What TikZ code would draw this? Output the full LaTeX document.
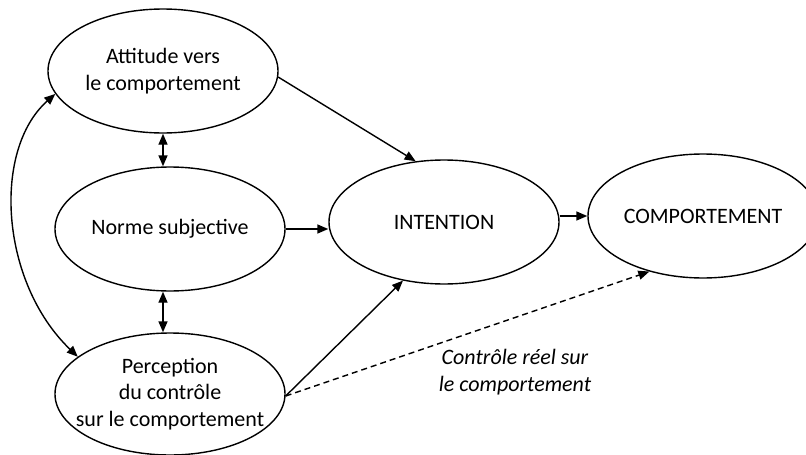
\documentclass[tikz,border=0pt]{standalone}
\usepackage{fontspec}
\setmainfont{Carlito}
\usetikzlibrary{shapes.geometric,arrows.meta}
\tikzset{
  oval/.style={ellipse, draw, line width=1.4pt, minimum width=230pt, minimum height=124pt, inner sep=0pt},
  txt/.style={align=center, font=\fontsize{22}{26.5}\selectfont},
  link/.style={line width=1.4pt, -{Triangle[length=11pt,width=9pt]}},
  both/.style={line width=1.4pt, {Triangle[length=11pt,width=9pt]}-{Triangle[length=11pt,width=9pt]}},
  dashlink/.style={link, dash pattern=on 6pt off 4pt}
}
\begin{document}
\begin{tikzpicture}[x=1pt, y=-1pt]
\clip (0,0) rectangle (806,455);
\useasboundingbox (0,0) rectangle (806,455);
% the five constructs
\node[oval, label={[txt]center:Attitude vers\\le comportement}] (att) at (163,71) {};
\node[oval, label={[txt]center:Norme subjective}] (norme) at (170,229) {};
\node[oval, minimum height=122pt, label={[txt]center:Perception\\du contrôle\\sur le comportement}] (perc) at (170,394) {};
\node[oval, label={[txt]center:INTENTION}] (int) at (444,222) {};
\node[oval, label={[txt]center:COMPORTEMENT}] (comp) at (703,216) {};
% relations
\draw[link] (att.-3) -- (int.115);
\draw[link] (norme.east) -- (norme.east -| int.west);
\draw[link] (int.east |- comp.west) -- (comp.west);
\draw[link] (perc.-1) -- (int.235);
\draw[dashlink] (perc.-1) -- (comp.226);
\draw[both] (att.south) -- (att.south |- norme.north);
\draw[both] (norme.south -| att.south) -- (perc.north -| att.south);
\draw[both] (att.192) .. controls (-8,150) and (0,282) .. (perc.158);
% label of the dashed path
\node[txt, font=\fontsize{22}{26.5}\selectfont\itshape] (lab) at (515,372) {Contrôle réel sur\\le comportement};
\end{tikzpicture}
\end{document}
